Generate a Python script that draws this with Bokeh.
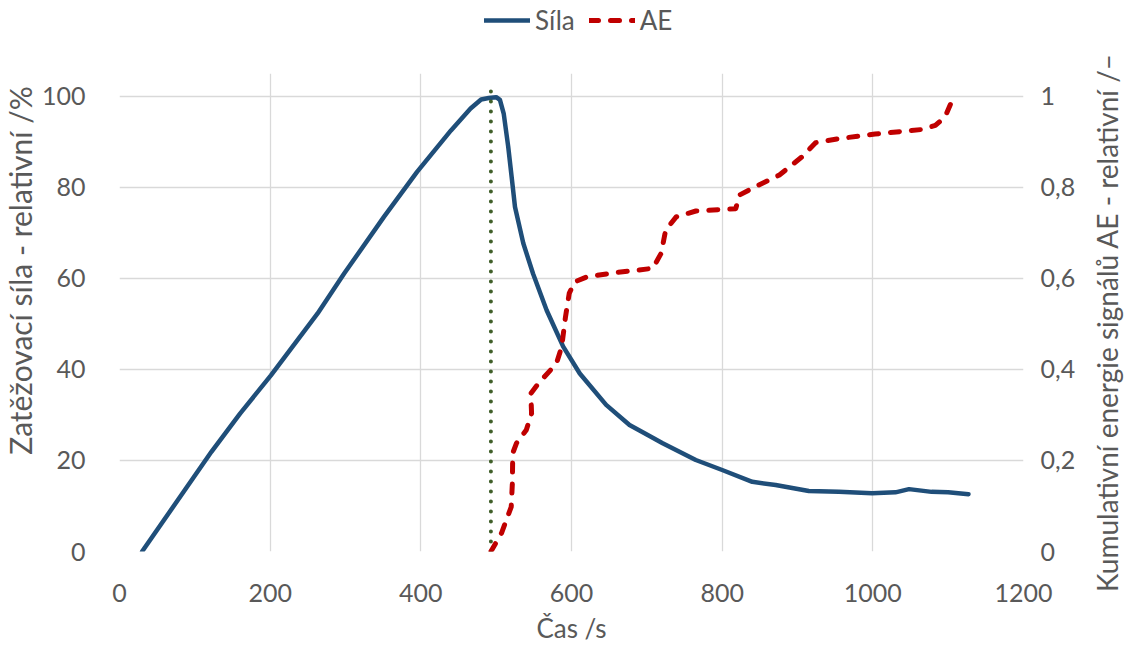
import math
from bokeh.plotting import figure
from bokeh.layouts import column, row
from bokeh.models import (Range1d, LinearAxis, FixedTicker, CustomJSTickFormatter, Legend,
                          LegendItem, Label)
from bokeh.embed import file_html
from bokeh.resources import INLINE

# ---- data ----
sila_t = [30, 122, 160, 201, 263, 298, 351, 395, 440, 466, 480, 490, 500, 505, 510, 516, 521, 525,
          536, 549, 567, 589, 611, 646, 677, 700, 721, 765, 800, 840, 871, 915, 955, 999, 1030,
          1048, 1078, 1100, 1127]
sila_v = [0, 21.9, 30.3, 38.7, 52.3, 61.0, 73.5, 83.4, 92.5, 97.3, 99.3, 99.6, 99.8, 99.2, 96.2,
          88.9, 81.6, 75.7, 67.7, 61.0, 53.0, 45.0, 39.1, 32.2, 27.8, 25.7, 23.8, 20.1, 17.9, 15.3,
          14.6, 13.3, 13.1, 12.8, 13.0, 13.7, 13.1, 13.0, 12.6]

ae_t = [493, 507, 520, 521.5, 522, 527, 540, 547, 546, 556, 580, 587, 592, 597, 604, 620, 655,
        708, 719, 725, 739, 765, 818, 823, 845, 876, 906, 924, 955, 1003, 1065, 1083, 1096, 1105]
ae_v = [0, 0.04, 0.098, 0.15, 0.216, 0.238, 0.267, 0.303, 0.347, 0.369, 0.413, 0.45, 0.515,
        0.567, 0.592, 0.603, 0.612, 0.622, 0.655, 0.706, 0.735, 0.748, 0.753, 0.783, 0.802,
        0.827, 0.867, 0.898, 0.907, 0.917, 0.927, 0.936, 0.955, 0.99]

peak_t = 493
peak_span = [0, 103]

x_ticks = [0, 200, 400, 600, 800, 1000, 1200]
y_ticks = [0, 20, 40, 60, 80, 100]
ae_ticks = [0, 0.2, 0.4, 0.6, 0.8, 1.0]

label_x = "Čas /s"
label_left = "Zatěžovací síla - relativní /%"
label_right = "Kumulativní energie signálů AE - relativní /–"
series_names = ["Síla", "AE"]

FONT = "Lato"
GRAY = "#595959"
GRID = "#D9D9D9"
BLUE = "#1F4E79"
RED = "#C00000"
GREEN = "#41602A"

W, H = 1132, 646
LEG_H = 48
LEFT_W, RIGHT_W = 38, 54
MAIN_W = W - LEFT_W - RIGHT_W
MAIN_H = H - LEG_H


def bare(width, height, xr=(0, 1), yr=(0, 1)):
    f = figure(width=width, height=height, output_backend="svg", toolbar_location=None,
               x_axis_type=None, y_axis_type=None, x_range=Range1d(*xr), y_range=Range1d(*yr),
               min_border=0, min_border_left=0, min_border_right=0, min_border_top=0,
               min_border_bottom=0)
    f.outline_line_color = None
    if hasattr(f, "frame_align"):
        f.frame_align = False
    return f


# ---- main chart ----
p = figure(width=MAIN_W, height=MAIN_H, output_backend="svg", toolbar_location=None,
           x_range=Range1d(0, 1200), y_range=Range1d(0, 105),
           min_border_left=80, min_border_right=53, min_border_top=25, min_border_bottom=94)
p.extra_y_ranges = {"ae": Range1d(0, 1.05)}
p.outline_line_color = None

r_sila = p.line(sila_t, sila_v, line_color=BLUE, line_width=4.5,
                line_join="round", line_cap="round")
r_peak = p.line([peak_t, peak_t], peak_span, line_color=GREEN, line_width=4,
                line_dash="0 10", line_cap="round")
r_ae = p.line(ae_t, ae_v, y_range_name="ae", line_color=RED, line_width=5,
              line_dash="9 12", line_cap="round", line_join="round")

p.xaxis.ticker = FixedTicker(ticks=x_ticks)
p.yaxis.ticker = FixedTicker(ticks=y_ticks)
p.xgrid.ticker = FixedTicker(ticks=x_ticks)
p.ygrid.ticker = FixedTicker(ticks=y_ticks)
for g in (p.xgrid, p.ygrid):
    g.grid_line_color = GRID
    g.grid_line_width = 1.3

ax_r = LinearAxis(y_range_name="ae", ticker=FixedTicker(ticks=ae_ticks),
                  formatter=CustomJSTickFormatter(
                      code="return (Math.round(tick*10)/10).toString().replace('.', ',');"))
p.add_layout(ax_r, "right")

p.xaxis.axis_label = label_x

for ax in p.xaxis + p.yaxis + [ax_r]:
    ax.axis_line_color = None
    ax.major_tick_line_color = None
    ax.minor_tick_line_color = None
    ax.major_label_text_font = FONT
    ax.major_label_text_font_size = "25px"
    ax.major_label_text_color = GRAY
    ax.axis_label_text_font = FONT
    ax.axis_label_text_font_size = "26px"
    ax.axis_label_text_font_style = "normal"
    ax.axis_label_text_color = GRAY

p.xaxis.major_label_standoff = 26
p.xaxis.axis_label_standoff = 7
p.yaxis.major_label_standoff = 28
ax_r.major_label_standoff = 11

# ---- rotated axis titles (bottom-to-top on both sides) ----
lf = bare(LEFT_W, MAIN_H)
lf.add_layout(Label(x=19 / LEFT_W, y=(H - 270) / MAIN_H, text=label_left,
                    angle=math.pi / 2, text_align="center", text_baseline="middle",
                    text_font=FONT, text_font_size="30px", text_color=GRAY))

rf = bare(RIGHT_W, MAIN_H)
rf.add_layout(Label(x=28 / RIGHT_W, y=(H - 322) / MAIN_H, text=label_right,
                    angle=math.pi / 2, text_align="center", text_baseline="middle",
                    text_font=FONT, text_font_size="28px", text_color=GRAY))

# ---- legend strip (series drawn out of view, only their legend glyphs show) ----
lg = bare(W, LEG_H, xr=(-20, -10), yr=(-20, -10))
d_sila = lg.line(sila_t, sila_v, line_color=BLUE, line_width=4.5, line_cap="round")
d_ae = lg.line(ae_t, ae_v, line_color=RED, line_width=5, line_dash="9 12", line_cap="round")
legend = Legend(items=[LegendItem(label=series_names[0], renderers=[d_sila]),
                       LegendItem(label=series_names[1], renderers=[d_ae])],
                orientation="horizontal", location=(484, 12))
legend.label_text_font = FONT
legend.label_text_font_size = "26px"
legend.label_text_color = GRAY
legend.border_line_color = None
legend.background_fill_alpha = 0
legend.glyph_width = 46
legend.label_standoff = 5
legend.spacing = 14
legend.padding = 0
legend.margin = 0
lg.add_layout(legend, "center")

layout = column(lg, row(lf, p, rf))
open("out.html", "w").write(file_html(layout, INLINE))
